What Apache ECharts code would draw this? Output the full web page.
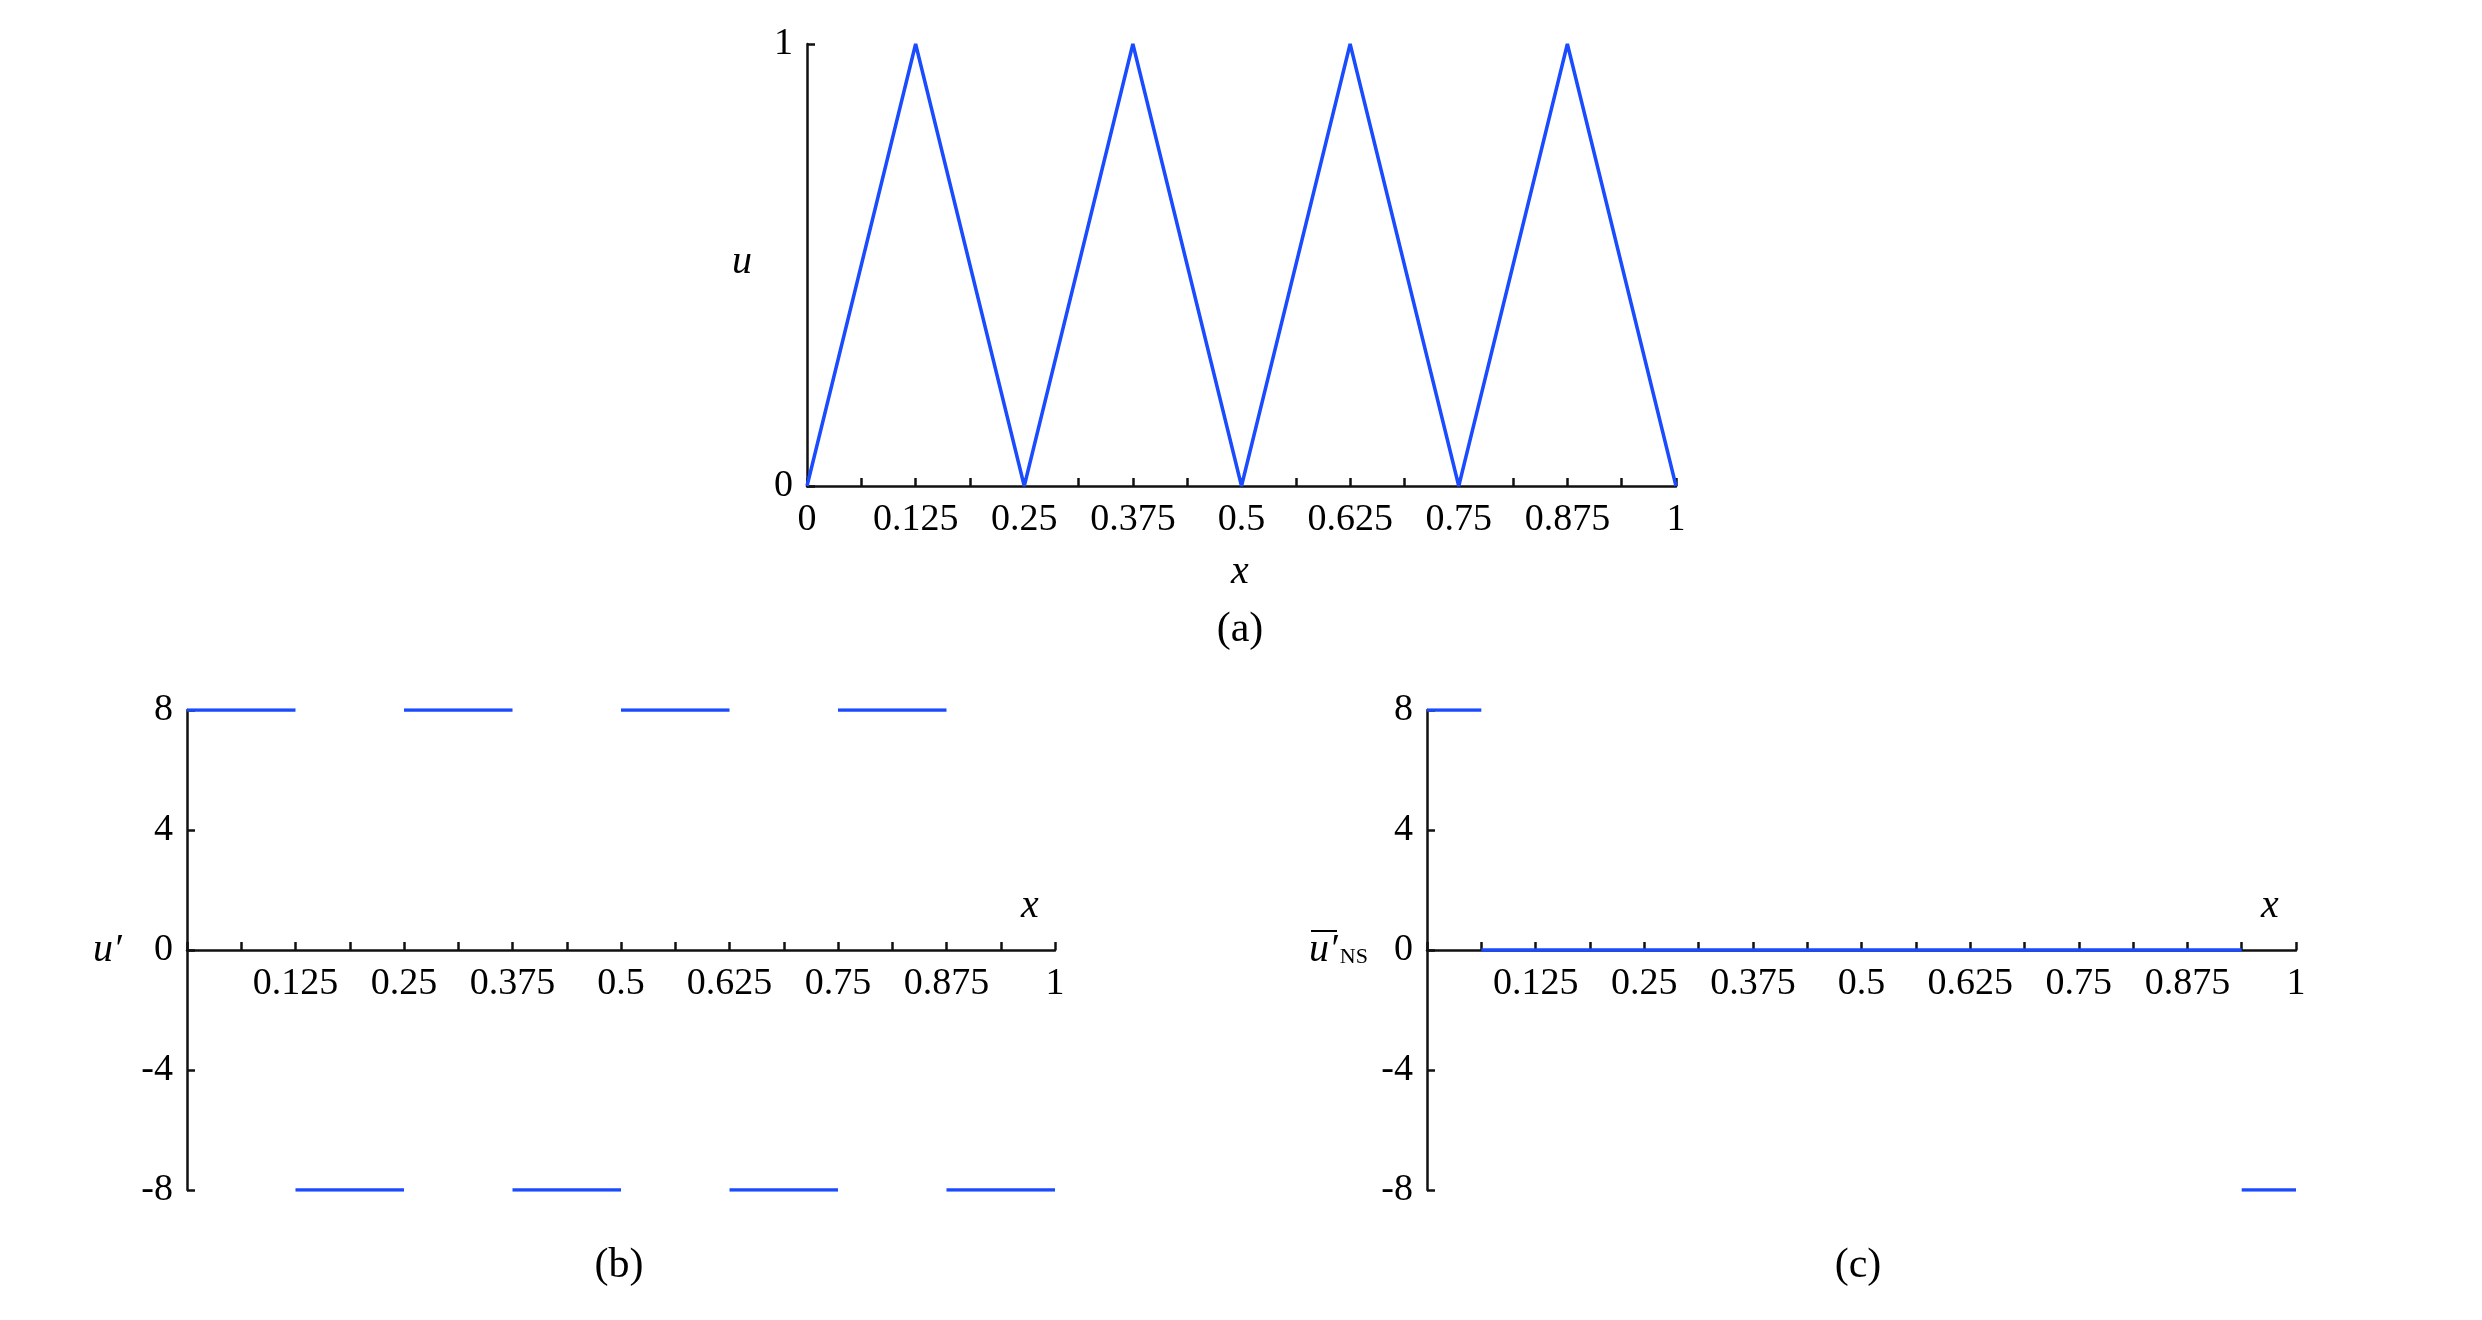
<!DOCTYPE html>
<html>
<head>
<meta charset="utf-8">
<script src="https://cdn.jsdelivr.net/npm/echarts@6/dist/echarts.min.js"></script>
<style>
html,body{margin:0;padding:0;background:#fff;}
#chart{width:2482px;height:1320px;}
</style>
</head>
<body>
<div id="chart"></div>
<script>
// ---- data ----
var topX = [0, 0.125, 0.25, 0.375, 0.5, 0.625, 0.75, 0.875, 1];
var topU = [0, 1, 0, 1, 0, 1, 0, 1, 0];

var bStart = [0, 0.125, 0.25, 0.375, 0.5, 0.625, 0.75, 0.875];
var bEnd   = [0.125, 0.25, 0.375, 0.5, 0.625, 0.75, 0.875, 1];
var bValue = [8, -8, 8, -8, 8, -8, 8, -8];

var cStart = [0, 0.0625, 0.9375];
var cEnd   = [0.0625, 0.9375, 1];
var cValue = [8, 0, -8];

var topTickLabels = ['0', '0.125', '0.25', '0.375', '0.5', '0.625', '0.75', '0.875', '1'];
var botTickLabels = ['0.125', '0.25', '0.375', '0.5', '0.625', '0.75', '0.875', '1'];
var topYLabels = [0, 1];
var botYLabels = [-8, -4, 0, 4, 8];

// ---- styles ----
var FONT = 'Liberation Serif';
var BLUE = '#1a4bff';
var AX = '#111';
var BOT_H = 480;

function labelFmt(list) {
  return function (v) {
    var s = String(+v.toFixed(4));
    return list.indexOf(s) >= 0 ? s : '';
  };
}

function xAxisCfg(gi, list, offset) {
  return {
    type: 'value', gridIndex: gi, min: 0, max: 1, interval: 0.0625, offset: offset,
    axisLine: { show: true, onZero: false, lineStyle: { color: AX, width: 2.5 } },
    axisTick: { show: true, inside: true, length: 8, lineStyle: { color: AX, width: 2.5 } },
    axisLabel: { show: true, margin: 15, formatter: labelFmt(list), color: '#000',
                 fontFamily: FONT, fontSize: 38, showMinLabel: true, showMaxLabel: true },
    splitLine: { show: false }
  };
}
function yAxisCfg(gi, min, max, interval) {
  return {
    type: 'value', gridIndex: gi, min: min, max: max, interval: interval,
    axisLine: { show: true, onZero: false, lineStyle: { color: AX, width: 2.5 } },
    axisTick: { show: true, inside: true, length: 8, lineStyle: { color: AX, width: 2.5 } },
    axisLabel: { show: true, margin: 14, color: '#000', fontFamily: FONT, fontSize: 38 },
    splitLine: { show: false }
  };
}

var series = [];
series.push({
  type: 'line', xAxisIndex: 0, yAxisIndex: 0, symbol: 'none', silent: true,
  lineStyle: { color: BLUE, width: 3.5 },
  data: topX.map(function (x, i) { return [x, topU[i]]; })
});
bStart.forEach(function (s, i) {
  series.push({
    type: 'line', xAxisIndex: 1, yAxisIndex: 1, symbol: 'none', silent: true, z: 5,
    lineStyle: { color: BLUE, width: 3.5 },
    data: [[s, bValue[i]], [bEnd[i], bValue[i]]]
  });
});
cStart.forEach(function (s, i) {
  series.push({
    type: 'line', xAxisIndex: 2, yAxisIndex: 2, symbol: 'none', silent: true, z: 5,
    lineStyle: { color: BLUE, width: 3.5 },
    data: [[s, cValue[i]], [cEnd[i], cValue[i]]]
  });
});

function txt(x, y, text, size, italic) {
  return {
    type: 'text', x: x, y: y,
    style: { text: text, fontFamily: FONT, fontSize: size, fontStyle: italic ? 'italic' : 'normal',
             fill: '#000', textAlign: 'center', textVerticalAlign: 'middle' }
  };
}

var option = {
  backgroundColor: '#fff',
  animation: false,
  grid: [
    { left: 807, top: 44, width: 869, height: 442 },
    { left: 187, top: 710, width: 868, height: BOT_H },
    { left: 1427, top: 710, width: 869, height: BOT_H }
  ],
  xAxis: [xAxisCfg(0, topTickLabels, 0),
          xAxisCfg(1, botTickLabels, -BOT_H / 2),
          xAxisCfg(2, botTickLabels, -BOT_H / 2)],
  yAxis: [yAxisCfg(0, topYLabels[0], topYLabels[1], 1),
          yAxisCfg(1, botYLabels[0], botYLabels[4], 4),
          yAxisCfg(2, botYLabels[0], botYLabels[4], 4)],
  series: series,
  graphic: [
    txt(742, 262, 'u', 40, true),
    txt(1240, 572, 'x', 40, true),
    txt(1240, 630, '(a)', 42, false),
    txt(1030, 906, 'x', 40, true),
    txt(619, 1266, '(b)', 42, false),
    txt(2270, 906, 'x', 40, true),
    txt(1858, 1266, '(c)', 42, false),
    {
      type: 'text', x: 93, y: 950,
      style: {
        text: '{u|u}{p|′}', textAlign: 'left', textVerticalAlign: 'middle',
        rich: {
          u: { fontFamily: FONT, fontSize: 40, fontStyle: 'italic', fill: '#000' },
          p: { fontFamily: FONT, fontSize: 40, fontStyle: 'italic', fill: '#000' }
        }
      }
    },
    {
      type: 'text', x: 1309, y: 950,
      style: {
        text: '{u|u}{p|′}{s|NS}', textAlign: 'left', textVerticalAlign: 'middle',
        rich: {
          u: { fontFamily: FONT, fontSize: 40, fontStyle: 'italic', fill: '#000' },
          p: { fontFamily: FONT, fontSize: 40, fontStyle: 'italic', fill: '#000' },
          s: { fontFamily: FONT, fontSize: 22, fill: '#000', padding: [14, 0, 0, 2] }
        }
      }
    },
    {
      type: 'line', shape: { x1: 1311, y1: 931, x2: 1337, y2: 931 },
      style: { stroke: '#000', lineWidth: 2 }
    }
  ]
};

var chart = echarts.init(document.getElementById('chart'), null, { renderer: 'canvas' });
chart.setOption(option);
</script>
</body>
</html>
